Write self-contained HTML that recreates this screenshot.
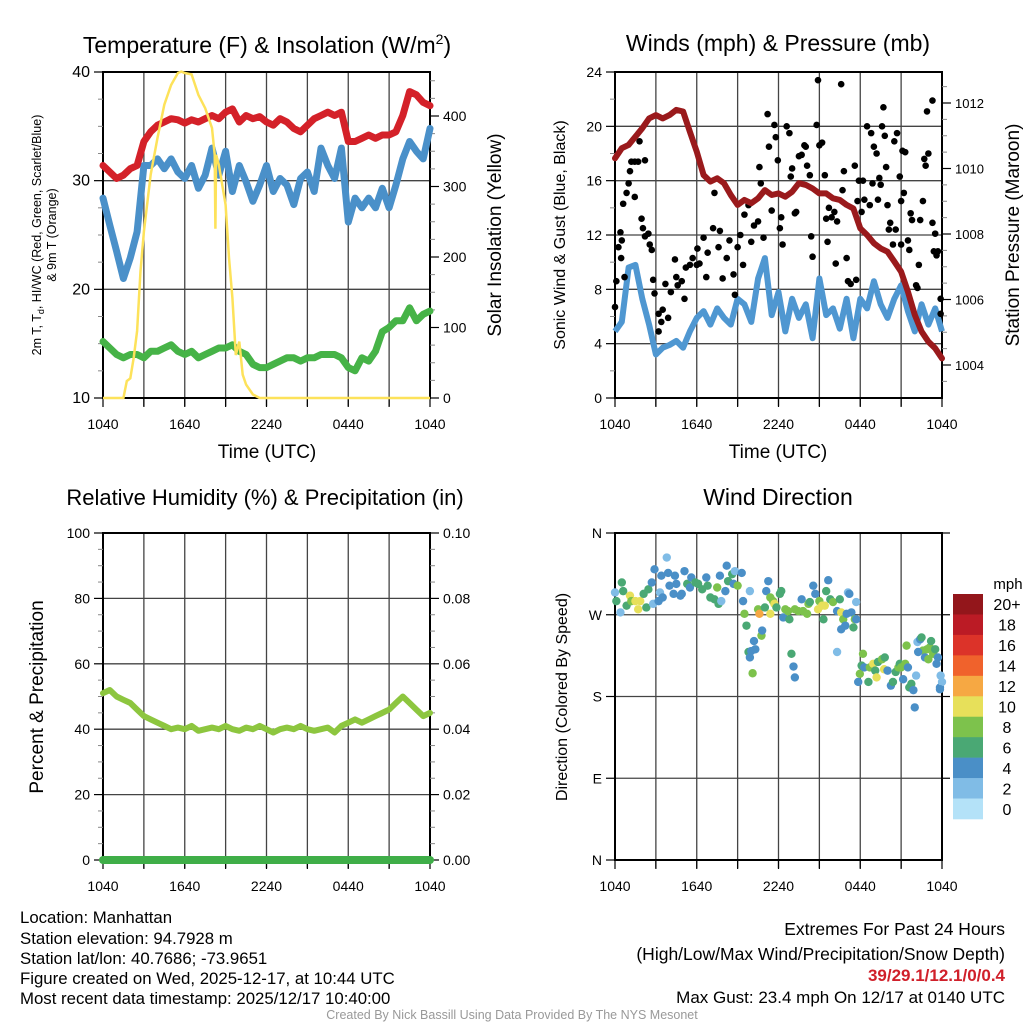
<!DOCTYPE html>
<html><head><meta charset="utf-8">
<style>
html,body{margin:0;padding:0;background:#fff;}
svg{display:block;font-family:"Liberation Sans",Arial,sans-serif;}
</style></head>
<body>
<svg id="fig" width="1024" height="1024" viewBox="0 0 1024 1024" xmlns="http://www.w3.org/2000/svg">
<g id="p1"></g>
<g id="p2"></g>
<g id="p3"></g>
<g id="p4"></g>
<g font-size="16.8" fill="#000">
<text x="20" y="923">Location: Manhattan</text>
<text x="20" y="944">Station elevation: 94.7928 m</text>
<text x="20" y="964">Station lat/lon: 40.7686; -73.9651</text>
<text x="20" y="984">Figure created on Wed, 2025-12-17, at 10:44 UTC</text>
<text x="20" y="1004">Most recent data timestamp: 2025/12/17 10:40:00</text>
<text x="1005" y="935" text-anchor="end" font-size="17.5">Extremes For Past 24 Hours</text>
<text x="1005" y="960" text-anchor="end" font-size="17.5">(High/Low/Max Wind/Precipitation/Snow Depth)</text>
<text x="1005" y="981" text-anchor="end" font-size="17" font-weight="bold" fill="#d0202a">39/29.1/12.1/0/0.4</text>
<text x="1005" y="1003" text-anchor="end" font-size="17">Max Gust: 23.4 mph On 12/17 at 0140 UTC</text>
<text x="512" y="1019" text-anchor="middle" font-size="12.5" fill="#999">Created By Nick Bassill Using Data Provided By The NYS Mesonet</text>
</g>
</svg>
<script>
// ---------- DATA (values every 30 minutes, 0h = 1040 UTC) ----------
const timeTicks = ["1040","1640","2240","0440","1040"];
const redTemp = [31.4,30.8,30.2,30.5,31.1,31.4,33.6,34.5,35.1,35.4,35.7,35.6,35.3,35.6,35.4,35.7,36.0,35.7,36.3,36.6,35.4,36.0,35.7,35.9,35.4,35.1,35.7,35.4,34.8,34.5,35.1,35.7,36.0,36.3,36.0,36.3,33.6,33.6,33.9,34.2,33.9,34.2,34.2,34.5,36.0,38.2,37.9,37.2,36.9];
const blueWC = [28.4,25.9,23.5,21.0,22.9,25.3,31.4,31.4,32.0,31.1,32.0,30.8,30.2,31.4,29.3,30.5,33.0,30.5,32.7,29.0,31.4,29.9,28.1,29.6,31.4,29.0,30.2,29.6,27.8,30.2,30.8,29.0,33.0,31.4,30.2,33.0,26.2,28.4,27.5,28.4,27.5,29.3,27.5,29.6,32.0,33.6,32.7,32.0,34.8];
const greenTd = [15.2,14.6,14.0,13.7,14.0,14.0,13.7,14.3,14.3,14.6,14.9,14.3,14.0,14.3,13.7,14.0,14.3,14.6,14.6,14.9,14.3,14.0,13.1,12.8,12.8,13.1,13.4,13.7,13.7,13.4,13.7,13.7,14.0,14.0,14.0,13.7,12.8,12.5,13.7,13.4,14.3,16.1,16.5,17.1,17.1,18.3,17.1,17.7,18.0];
const solarHours = [0,1.5,1.75,2,2.25,2.5,2.75,3,3.5,4,4.5,5,5.5,5.75,6,6.5,7,7.5,8,8.2,8.25,8.3,8.5,9,9.25,9.5,9.75,10,10.25,10.5,11,11.5,24];
const solarVals = [0,0,24,28,57,95,180,236,317,369,416,444,461,463,461,459,430,411,383,345,240,345,331,274,199,142,61,80,33,19,5,0,0];
const windSpeed = [4.9,5.6,9.6,9.8,7.3,5.4,3.2,3.7,3.9,4.2,3.7,4.9,5.9,6.4,5.4,6.6,5.9,5.4,7.3,6.9,5.6,8.8,10.3,6.1,7.8,4.9,7.3,5.9,6.9,4.4,8.8,6.1,6.6,5.1,7.3,4.4,7.3,6.6,8.6,6.9,5.9,7.3,8.3,6.4,4.9,6.9,5.4,6.6,4.9];
const pressure = [1010.31,1010.62,1010.72,1010.97,1011.23,1011.53,1011.63,1011.53,1011.63,1011.79,1011.74,1011.12,1010.51,1009.80,1009.60,1009.70,1009.55,1009.19,1008.89,1009.04,1008.94,1009.09,1009.34,1009.19,1009.24,1009.14,1009.29,1009.55,1009.50,1009.39,1009.24,1009.24,1009.09,1009.04,1008.89,1008.78,1008.17,1007.97,1007.72,1007.56,1007.46,1007.16,1006.85,1006.24,1005.53,1005.02,1004.71,1004.51,1004.20];
const gustHours = [0,0.1,0.25,0.4,0.5,0.45,0.6,0.7,0.85,1.0,1.1,1.2,1.45,1.7,2.2,1.45,1.8,1.95,2.05,2.2,2.45,2.55,2.7,2.8,2.9,3.2,3.2,3.4,3.5,3.7,3.9,4.1,4.4,4.5,4.6,4.9,5.1,5.2,5.5,5.7,6.0,6.05,6.2,6.5,6.7,6.8,7.2,7.3,7.6,7.7,7.9,8.2,8.4,8.7,8.8,9.0,9.2,9.4,9.5,9.8,10.0,10.2,10.5,10.6,10.7,10.9,11.2,11.3,11.5,11.7,11.8,11.95,12.1,12.2,12.3,12.6,12.8,12.9,13.0,13.2,13.3,13.5,13.7,13.9,14.0,14.1,14.3,14.4,14.5,14.8,14.9,15.0,15.2,15.4,15.5,15.6,15.7,15.9,16.1,16.2,16.3,16.6,16.7,16.8,17.0,17.1,17.3,17.6,17.7,17.8,17.9,18.1,18.2,18.3,18.5,18.7,18.8,18.9,19.0,19.2,19.3,19.4,19.5,19.6,19.7,19.8,19.9,20.0,20.1,20.2,20.4,20.5,20.6,20.7,20.9,21.0,21.0,21.1,21.2,21.3,21.5,21.6,21.7,21.8,22.1,22.2,22.3,22.4,22.6,22.7,22.8,22.9,23.0,23.3,23.3,23.4,23.5,23.6,23.7,23.9,23.9];
const gustVals = [6.7,8.6,11.1,12.2,11.6,10.3,14.3,8.9,15.1,15.8,16.7,17.4,17.4,17.4,17.5,14.8,18.9,13.2,12.5,11.9,12.1,11.3,10.9,8.7,7.7,6.2,4.9,5.6,6.5,8.4,5.9,7.8,10.2,8.9,8.3,8.6,7.3,9.6,9.8,10.3,9.8,11.0,9.9,11.8,8.9,10.7,12.5,15.1,11.1,12.3,8.8,10.3,11.6,9.1,7.6,11.1,12.0,9.8,13.5,14.2,11.5,12.7,13.0,17.0,15.8,11.8,20.9,18.5,13.8,20.1,19.2,17.5,12.5,13.3,11.3,20.0,19.5,16.3,16.9,13.6,13.7,17.8,17.9,18.6,18.5,17.1,16.4,11.9,10.4,20.1,23.4,18.6,18.8,16.4,13.2,11.5,14.0,13.3,13.7,9.9,13.0,23.1,15.3,16.7,10.3,8.6,8.4,17.1,8.7,14.5,16.0,13.7,16.0,14.6,20.0,14.2,19.5,15.8,18.5,18.0,14.6,16.2,15.7,20.0,21.4,19.3,17.0,14.2,12.4,12.9,11.3,18.9,12.4,19.5,16.3,14.5,11.3,18.2,15.1,18.1,11.6,10.9,13.6,13.1,8.3,8.1,9.8,13.1,14.5,17.6,17.1,21.1,18.0,21.9,12.9,10.8,12.1,10.5,10.8,7.3,6.2];
const rhVals = [51,52,50,49,48,46,44,43,42,41,40,40.5,40,41,39.5,40,40.5,40,41,40,39.5,40.5,40,41,40,39,40,40.5,40,41,40,39.5,40,40.5,39,41,42,43,42,43,44,45,46,48,50,48,46,44,45];
const precipVals = [0,0,0,0,0,0,0,0,0,0,0,0,0,0,0,0,0,0,0,0,0,0,0,0,0,0,0,0,0,0,0,0,0,0,0,0,0,0,0,0,0,0,0,0,0,0,0,0,0];
const dirHours = [0,0.1,0.4,0.5,0.6,0.85,1.1,1.2,1.5,1.7,1.85,2.1,2.3,2.45,2.7,2.8,2.9,3.2,3.3,3.4,3.5,3.8,3.9,4.0,4.3,4.4,4.5,4.8,4.9,5.1,5.3,5.5,5.6,5.9,6.1,6.4,6.7,6.8,7.0,7.3,7.6,7.5,7.7,7.8,8.1,8.2,8.3,8.6,8.7,8.8,9.0,9.3,9.4,9.5,9.65,9.8,9.9,10.0,10.2,10.3,10.1,10.75,10.8,9.9,10.5,10.6,11.0,11.1,11.25,11.4,11.4,11.6,11.7,11.85,12.1,12.2,12.35,12.5,12.7,12.8,12.95,13.1,13.2,13.2,13.45,13.7,13.8,14.1,14.2,14.3,14.55,14.7,14.9,15.0,15.2,15.3,15.4,15.5,15.65,15.8,16.0,16.3,16.3,16.5,16.6,16.75,16.9,17.0,17.1,17.2,17.35,17.5,17.6,17.7,17.7,16.6,17.85,17.97,18.1,18.2,18.3,18.6,18.7,18.95,19.1,19.2,19.3,19.6,19.75,19.8,20.0,20.25,20.4,20.6,20.8,20.9,21.0,21.15,21.3,21.4,21.5,21.6,21.75,21.9,22.0,22.1,22.2,22.4,22.5,22.6,22.75,22.9,23.0,23.1,23.2,23.35,23.5,23.6,23.7,23.85,23.9,24.0,23.85,22.25];
const dirDeg = [294.5,285,272.6,305.5,296,280,291,285,285,276,285,293,278,298,305.5,282,320,285,294.5,313,289,333,316,302,293,313,304,291,293,318,304,300,311,305.5,304,298,311,302,289,287,282,300,313,285,296,324,307,314.7,304,318,302,316,285,271,258,229,223,230,241,232,205.6,247,252.6,296,276,271,278,296,307,289,271,285,282,278,293,296,267,276,274,265,227,213,201,276,274,287,274,271,282,284,302,293,276,285,280,265,280,296,308,287,284,274,229,287,272.6,265,258,271,294.5,293,272.6,256,265,284,265,254,196,205,214,227,212,196,212,216,208.5,201,218,221,210,223,208.5,192,196,207,212,216,212,199,216,236,212,190,194,187,168,203,240,243,245,230.5,223,232,221,234,241,227,232,216,223,190,203,196,188,229];
const dirSpeed = [2,6,2,6,6,6,10,8,10,10,10,6,6,6,4,2,4,4,2,4,4,2,4,4,4,4,4,4,4,4,6,4,4,6,6,6,4,6,6,6,6,8,4,2,4,4,6,6,4,2,8,4,4,8,6,6,4,4,4,4,8,8,4,2,8,12,6,4,4,8,10,8,10,6,6,6,4,8,8,6,6,4,4,8,8,4,8,8,8,6,4,4,10,8,10,6,10,6,4,6,8,4,2,6,10,8,4,4,2,4,4,6,8,2,4,4,4,8,6,8,4,6,8,10,6,10,6,8,10,6,4,4,6,6,8,6,8,4,8,8,4,6,6,4,4,2,2,4,6,8,4,8,8,8,6,8,6,4,4,4,2,2,4,4];
const speedBins = ["0","2","4","6","8","10","12","14","16","18","20+"];
const speedColors = ["#b4e2f8","#80bce6","#4a8fc7","#4aa874","#7dc24c","#e7e05a","#f6a843","#f0622c","#dc3329","#bb1b25","#93161b"];

// ---------- helpers ----------
const NS="http://www.w3.org/2000/svg";
function mk(parent,tag,attrs){const e=document.createElementNS(NS,tag);for(const k in attrs)e.setAttribute(k,attrs[k]);parent.appendChild(e);return e;}
function txt(parent,x,y,s,size,anchor,extra){const t=mk(parent,'text',Object.assign({x:x,y:y,'font-size':size,'text-anchor':anchor||'middle'},extra||{}));t.textContent=s;return t;}
function pathFrom(xs,ys){let d='';for(let i=0;i<xs.length;i++)d+=(i?'L':'M')+xs[i].toFixed(1)+' '+ys[i].toFixed(1);return d;}
function halfHours(n){const a=[];for(let i=0;i<n;i++)a.push(i*0.5);return a;}

function frame(g,X0,X1,Y0,Y1,yVals,yFn){
  for(let h=3;h<24;h+=3){
    const l=mk(g,'line',{x1:X0+h/24*(X1-X0),x2:X0+h/24*(X1-X0),y1:Y0,y2:Y1+8,stroke:'#444','stroke-width':1.3});
    
    
  }
  yVals.forEach(v=>{const y=yFn(v);
    const l=mk(g,'line',{x1:X0,x2:X1,y1:y,y2:y,stroke:'#444','stroke-width':1.3});
    
    
  });
  const r=mk(g,'rect',{x:X0,y:Y0,width:X1-X0,height:Y1-Y0,fill:'none',stroke:'#000','stroke-width':2});
  
  
  for(let h=0;h<=24;h+=3){const x=X0+h/24*(X1-X0);mk(g,'line',{x1:x,x2:x,y1:Y1,y2:Y1+9,stroke:'#000','stroke-width':1.2});}
  for(let i=0;i<timeTicks.length;i++){
    const t=txt(g,X0+i*6/24*(X1-X0),Y1+31,timeTicks[i],14);
    
    
  }
}
function yAxis(g,x,side,vals,labels,yFn,minorVals,size){
  const dir=side==='left'?-1:1;
  vals.forEach((v,i)=>{const y=yFn(v);
    mk(g,'line',{x1:x,x2:x+dir*9,y1:y,y2:y,stroke:'#000','stroke-width':1.2});
    const t=txt(g,x+dir*13,y+5,labels[i],size||14,side==='left'?'end':'start');
    
    
  });
  (minorVals||[]).forEach(v=>{const y=yFn(v);mk(g,'line',{x1:x,x2:x+dir*5,y1:y,y2:y,stroke:'#888','stroke-width':1});});
}
function rotText(g,x,y,s,size,name){const t=mk(g,'text',{x:x,y:y,'font-size':size,'text-anchor':'middle',transform:'rotate(-90 '+x+' '+y+')'});t.textContent=s;return t;}

// ---------- Panel 1 ----------
(function(){
  const g=document.getElementById('p1');
  const X0=103,X1=430,Y0=72,Y1=398;
  const xs=h=>X0+h/24*(X1-X0);
  const yT=v=>Y1-(v-10)/30*(Y1-Y0);
  const yS=v=>Y1-v*0.705;
  frame(g,X0,X1,Y0,Y1,[20,30],yT);
  yAxis(g,X0,'left',[10,20,30,40],['10','20','30','40'],yT,[12.5,15,17.5,22.5,25,27.5,32.5,35,37.5],16);
  yAxis(g,X1,'right',[0,100,200,300,400],['0','100','200','300','400'],yS,[25,50,75,125,150,175,225,250,275,325,350,375,425,450],14);
  const hh=halfHours(redTemp.length);
  const series=[[greenTd,'#46b347','dewpoint-line'],[blueWC,'#4a90c9','windchill-line'],[redTemp,'#d42129','temperature-line']];
  series.forEach(s=>{const p=mk(g,'path',{d:pathFrom(hh.map(xs),s[0].map(yT)),fill:'none',stroke:s[1],'stroke-width':7,'stroke-linejoin':'round','stroke-linecap':'round'});
    });
  const sp=mk(g,'path',{d:pathFrom(solarHours.map(xs),solarVals.map(yS)),fill:'none',stroke:'#fde25a','stroke-width':2.5});
  
  const tt=mk(g,'text',{x:267,y:53,'font-size':23,'text-anchor':'middle'});
  tt.innerHTML='Temperature (F) &amp; Insolation (W/m<tspan dy="-9" font-size="14">2</tspan><tspan dy="9">)</tspan>';
  
  const yl=mk(g,'text',{x:41,y:235,'font-size':12.5,'text-anchor':'middle',transform:'rotate(-90 41 235)'});
  yl.innerHTML='2m T, T<tspan dy="3" font-size="9">d</tspan><tspan dy="-3">, HI/WC (Red, Green, Scarlet/Blue)</tspan>';
  
  rotText(g,56,235,'& 9m T (Orange)',12.5,'temperature-y-title-line2');
  rotText(g,501,235,'Solar Insolation (Yellow)',19,'solar-y-title');
  const xt=txt(g,267,458,'Time (UTC)',19);
})();

// ---------- Panel 2 ----------
(function(){
  const g=document.getElementById('p2');
  const X0=615,X1=942,Y0=72,Y1=398;
  const xs=h=>X0+h/24*(X1-X0);
  const yW=v=>Y1-v/24*(Y1-Y0);
  const yP=v=>365-(v-1004)*32.75;
  frame(g,X0,X1,Y0,Y1,[4,8,12,16,20],yW);
  yAxis(g,X0,'left',[0,4,8,12,16,20,24],['0','4','8','12','16','20','24'],yW,[2,6,10,14,18,22],14);
  yAxis(g,X1,'right',[1004,1006,1008,1010,1012],['1004','1006','1008','1010','1012'],yP,[1003.5,1004.5,1005,1005.5,1006.5,1007,1007.5,1008.5,1009,1009.5,1010.5,1011,1011.5,1012.5],13);
  const hh=halfHours(windSpeed.length);
  const wp=mk(g,'path',{d:pathFrom(hh.map(xs),windSpeed.map(yW)),fill:'none',stroke:'#4f97d1','stroke-width':6,'stroke-linejoin':'round'});
  
  gustHours.forEach((h,i)=>{const c=mk(g,'circle',{cx:xs(h),cy:yW(gustVals[i]),r:3.3,fill:'#000'});
    });
  const pp=mk(g,'path',{d:pathFrom(hh.map(xs),pressure.map(yP)),fill:'none',stroke:'#9a1a1c','stroke-width':6,'stroke-linejoin':'round','stroke-linecap':'round'});
  
  const tt=txt(g,778,51,'Winds (mph) & Pressure (mb)',23);
  rotText(g,565,235,'Sonic Wind & Gust (Blue, Black)',16,'winds-y-title');
  rotText(g,1019,235,'Station Pressure (Maroon)',19,'pressure-y-title');
  const xt=txt(g,778,458,'Time (UTC)',19);
})();

// ---------- Panel 3 ----------
(function(){
  const g=document.getElementById('p3');
  const X0=103,X1=430,Y0=533,Y1=860;
  const xs=h=>X0+h/24*(X1-X0);
  const yR=v=>Y1-v/100*(Y1-Y0);
  const yPr=v=>Y1-v/0.1*(Y1-Y0);
  frame(g,X0,X1,Y0,Y1,[20,40,60,80],yR);
  yAxis(g,X0,'left',[0,20,40,60,80,100],['0','20','40','60','80','100'],yR,[5,10,15,25,30,35,45,50,55,65,70,75,85,90,95],14);
  yAxis(g,X1,'right',[0,0.02,0.04,0.06,0.08,0.1],['0.00','0.02','0.04','0.06','0.08','0.10'],yPr,[0.005,0.01,0.015,0.025,0.03,0.035,0.045,0.05,0.055,0.065,0.07,0.075,0.085,0.09,0.095],14);
  const hh=halfHours(rhVals.length);
  const pr=mk(g,'path',{d:pathFrom(hh.map(xs),precipVals.map(yPr)),fill:'none',stroke:'#3fae48','stroke-width':8,'stroke-linecap':'round'});
  
  const rp=mk(g,'path',{d:pathFrom(hh.map(xs),rhVals.map(yR)),fill:'none',stroke:'#8dc63f','stroke-width':6,'stroke-linejoin':'round','stroke-linecap':'round'});
  
  const tt=txt(g,265,505,'Relative Humidity (%) & Precipitation (in)',22);
  rotText(g,43,697,'Percent & Precipitation',19,'humidity-y-title');
})();

// ---------- Panel 4 ----------
(function(){
  const g=document.getElementById('p4');
  const X0=615,X1=942,Y0=533,Y1=860;
  const xs=h=>X0+h/24*(X1-X0);
  const yD=v=>Y1-v/360*(Y1-Y0);
  frame(g,X0,X1,Y0,Y1,[90,180,270],yD);
  [90,180,270,360].forEach(v=>mk(g,'line',{x1:X1,x2:X1+8,y1:yD(v),y2:yD(v),stroke:'#000','stroke-width':1.2}));
  yAxis(g,X0,'left',[0,90,180,270,360],['N','E','S','W','N'],yD,[],14);
  dirHours.forEach((h,i)=>{const c=mk(g,'circle',{cx:xs(h),cy:yD(dirDeg[i]),r:4.2,fill:speedColors[Math.min(10,Math.round(dirSpeed[i]/2))]});
    });
  const tt=txt(g,778,505,'Wind Direction',23);
  rotText(g,567,697,'Direction (Colored By Speed)',16,'direction-y-title');
  const cb=mk(g,'g',{});
  const bh=225/speedBins.length;
  for(let i=0;i<speedBins.length;i++){
    const k=speedBins.length-1-i;const y=594+i*bh;
    const r=mk(cb,'rect',{x:953,y:y,width:30,height:bh+0.3,fill:speedColors[k]});
    
    const t=txt(cb,1007,y+bh/2+6,speedBins[k],16);
    
  }
  const u=txt(cb,1008,589,'mph',15);
})();
</script>
</body></html>
